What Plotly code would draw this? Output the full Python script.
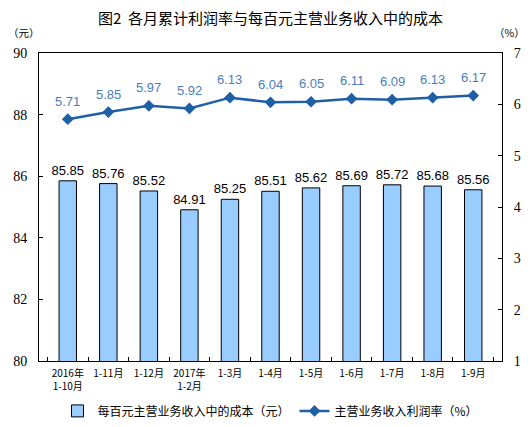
import plotly.graph_objects as go

# 数据
months = ["2016年<br>1-10月", "1-11月", "1-12月", "2017年<br>1-2月", "1-3月", "1-4月",
          "1-5月", "1-6月", "1-7月", "1-8月", "1-9月"]
cost_per_100 = [85.85, 85.76, 85.52, 84.91, 85.25, 85.51, 85.62, 85.69, 85.72, 85.68, 85.56]
profit_rate = [5.71, 5.85, 5.97, 5.92, 6.13, 6.04, 6.05, 6.11, 6.09, 6.13, 6.17]

serif = "Liberation Serif"
sans = "Liberation Sans"
cjk = "Noto Sans CJK SC"

fig = go.Figure()

fig.add_trace(go.Bar(
    x=months, y=cost_per_100, name="每百元主营业务收入中的成本（元）",
    marker=dict(color="#99CCFF", line=dict(color="black", width=1)),
    width=0.43,
    text=[f"{v:.2f}" for v in cost_per_100], textposition="outside",
    constraintext="none",
    textfont=dict(family=sans, size=13, color="black"),
    cliponaxis=False,
))

fig.add_trace(go.Scatter(
    x=months, y=profit_rate, yaxis="y2", name="主营业务收入利润率（%）",
    mode="lines+markers",
    line=dict(color="#1E5FA6", width=2.5),
    marker=dict(symbol="diamond", size=9, color="#1E5FA6"),
))

# 折线数据标签
for m, v in zip(months, profit_rate):
    fig.add_annotation(x=m, y=v, yref="y2", text=f"{v:.2f}", showarrow=False,
                       yshift=18, font=dict(family=sans, size=13, color="#4A7EBB"))

# 标题和单位
fig.add_annotation(x=0.5, y=1.114, xref="paper", yref="paper", showarrow=False,
                   xanchor="center", yanchor="middle",
                   text="图2  各月累计利润率与每百元主营业务收入中的成本",
                   font=dict(family=cjk, size=15, color="black"))
fig.add_annotation(x=-0.032, y=1.065, xref="paper", yref="paper", showarrow=False,
                   xanchor="center", yanchor="middle",
                   text="（元）", font=dict(family=cjk, size=10.5, color="black"))
fig.add_annotation(x=1.017, y=1.065, xref="paper", yref="paper", showarrow=False,
                   xanchor="center", yanchor="middle",
                   text="（%）", font=dict(family=cjk, size=10.5, color="black"))

# 页面默认有 8px 边距，所以图整体缩小 8px
fig.update_layout(
    width=524, height=419,
    margin=dict(l=31, r=30, t=45, b=66, autoexpand=False),
    paper_bgcolor="white", plot_bgcolor="white",
    bargap=0.57,
    xaxis=dict(showline=True, linecolor="black", linewidth=1, mirror=True,
               ticks="inside", tickson="boundaries", ticklen=4, tickcolor="black",
               ticklabelstandoff=3,
               tickfont=dict(family=cjk, size=10, color="black"), tickangle=0),
    yaxis=dict(range=[80, 90], dtick=2, showline=True, linecolor="black", linewidth=1,
               ticks="inside", ticklen=4, tickcolor="black", showgrid=False, zeroline=False,
               ticklabelstandoff=8,
               tickfont=dict(family=serif, size=14, color="black")),
    yaxis2=dict(range=[1, 7], dtick=1, overlaying="y", side="right", showline=True,
                linecolor="black", linewidth=1, ticks="inside", ticklen=4, tickcolor="black",
                showgrid=False, zeroline=False, ticklabelstandoff=8,
                tickfont=dict(family=serif, size=14, color="black")),
    legend=dict(orientation="h", x=0.5, xanchor="center", y=-0.162, yanchor="middle",
                font=dict(family=cjk, size=12, color="black"), itemwidth=30),
    showlegend=True,
)

fig.write_html("out.html")
